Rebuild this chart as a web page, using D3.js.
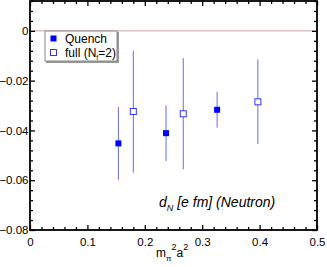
<!DOCTYPE html>
<html>
<head>
<meta charset="utf-8">
<script src="https://cdn.jsdelivr.net/npm/d3@7"></script>
<style>
  body { margin: 0; background: #fff; }
  svg { font-family: "Liberation Sans", Arial, sans-serif; }
</style>
</head>
<body>
<div id="chart"></div>
<script>
// data
var quenchX = [0.154, 0.237, 0.326],
  quenchY = [-0.0452, -0.0411, -0.0317],
  quenchErr = [0.0146, 0.0112, 0.0072];
var fullX = [0.180, 0.267, 0.397],
  fullY = [-0.0324, -0.0333, -0.0285],
  fullErr = [0.0245, 0.0223, 0.0170];
var xTicks = [0, 0.1, 0.2, 0.3, 0.4, 0.5],
  yTicks = [0, -0.02, -0.04, -0.06, -0.08];

var width = 327,
  height = 267,
  svg = d3
    .select("#chart")
    .append("svg")
    .attr("width", width)
    .attr("height", height);

var x = d3.scaleLinear().domain([0, 0.5]).range([30, 317]);
var y = d3.scaleLinear().domain([-0.08, 0.012]).range([230, 1]);

var xMinor = d3.range(0, 0.5001, 0.02).filter(function(v){ return Math.abs(v * 10 - Math.round(v * 10)) > 1e-6; });
var yMinor = d3.range(-0.08, 0.0121, 0.004).filter(function(v){ return Math.abs(v * 50 - Math.round(v * 50)) > 1e-6; });

// zero line
svg.append("line")
  .attr("x1", x(0)).attr("x2", x(0.5))
  .attr("y1", y(0)).attr("y2", y(0))
  .attr("stroke", "#c8a8a8")
  .attr("stroke-width", 1);

function styleAxis(g){
  g.select(".domain").remove();
  g.selectAll(".tick line").attr("stroke", "#000").attr("stroke-width", 1.3);
  g.selectAll("text").attr("fill", "#000").style("font-size", "11.5px");
}

// bottom
svg.append("g").attr("transform", `translate(0,${y(-0.08)})`)
  .call(d3.axisBottom(x).tickValues(xTicks).tickSize(-5).tickPadding(8).tickFormat(d3.format("")))
  .call(styleAxis);
svg.append("g").attr("transform", `translate(0,${y(-0.08)})`)
  .call(d3.axisBottom(x).tickValues(xMinor).tickSize(-3).tickFormat(""))
  .call(styleAxis);
// top
svg.append("g").attr("transform", `translate(0,${y(0.012)})`)
  .call(d3.axisTop(x).tickValues(xTicks).tickSize(-5).tickFormat(""))
  .call(styleAxis);
svg.append("g").attr("transform", `translate(0,${y(0.012)})`)
  .call(d3.axisTop(x).tickValues(xMinor).tickSize(-3).tickFormat(""))
  .call(styleAxis);
// left
svg.append("g").attr("transform", `translate(${x(0)},0)`)
  .call(d3.axisLeft(y).tickValues(yTicks).tickSize(-5).tickPadding(1.5).tickFormat(d3.format("")))
  .call(styleAxis);
svg.append("g").attr("transform", `translate(${x(0)},0)`)
  .call(d3.axisLeft(y).tickValues(yMinor).tickSize(-3).tickFormat(""))
  .call(styleAxis);
// right
svg.append("g").attr("transform", `translate(${x(0.5)},0)`)
  .call(d3.axisRight(y).tickValues(yTicks).tickSize(-5).tickFormat(""))
  .call(styleAxis);
svg.append("g").attr("transform", `translate(${x(0.5)},0)`)
  .call(d3.axisRight(y).tickValues(yMinor).tickSize(-3).tickFormat(""))
  .call(styleAxis);

// frame
svg.append("rect")
  .attr("x", x(0)).attr("y", y(0.012))
  .attr("width", x(0.5) - x(0)).attr("height", y(-0.08) - y(0.012))
  .attr("fill", "none")
  .attr("stroke", "#000")
  .attr("stroke-width", 1.8);

// error bars
var quench = quenchX.map(function(d, i){ return { x: d, y: quenchY[i], e: quenchErr[i] }; });
var full = fullX.map(function(d, i){ return { x: d, y: fullY[i], e: fullErr[i] }; });

svg.selectAll(".err")
  .data(quench.concat(full))
  .enter()
  .append("line")
  .attr("x1", function(d){ return x(d.x); })
  .attr("x2", function(d){ return x(d.x); })
  .attr("y1", function(d){ return y(d.y + d.e); })
  .attr("y2", function(d){ return y(d.y - d.e); })
  .attr("stroke", "#6b6bee")
  .attr("stroke-width", 1);

svg.selectAll(".qpt")
  .data(quench)
  .enter()
  .append("rect")
  .attr("x", function(d){ return x(d.x) - 3; })
  .attr("y", function(d){ return y(d.y) - 3; })
  .attr("width", 6).attr("height", 6)
  .attr("fill", "#0000ff");

svg.selectAll(".fpt")
  .data(full)
  .enter()
  .append("rect")
  .attr("x", function(d){ return x(d.x) - 3; })
  .attr("y", function(d){ return y(d.y) - 3; })
  .attr("width", 6).attr("height", 6)
  .attr("fill", "#fff")
  .attr("stroke", "#3333ff")
  .attr("stroke-width", 1);

// legend
var leg = svg.append("g");
leg.append("rect").attr("x", 46).attr("y", 32).attr("width", 73).attr("height", 31).attr("fill", "#999");
leg.append("rect").attr("x", 45).attr("y", 31).attr("width", 72).attr("height", 30)
  .attr("fill", "#fff").attr("stroke", "#888").attr("stroke-width", 1);
leg.append("rect").attr("x", 50.5).attr("y", 35.5).attr("width", 6).attr("height", 6).attr("fill", "#0000ff");
leg.append("rect").attr("x", 50.5).attr("y", 49.5).attr("width", 6).attr("height", 6)
  .attr("fill", "#fff").attr("stroke", "#3333ff").attr("stroke-width", 1);
leg.append("text").attr("x", 65).attr("y", 43).style("font-size", "12px").text("Quench");
var t2 = leg.append("text").attr("x", 65).attr("y", 57).style("font-size", "12px");
t2.append("tspan").text("full (N");
t2.append("tspan").attr("dy", 3).style("font-size", "7px").text("f");
t2.append("tspan").attr("dy", -3).text("=2)");

// annotation
var ann = svg.append("text").attr("x", 159).attr("y", 207)
  .style("font-size", "14px").style("font-style", "italic");
ann.append("tspan").text("d");
ann.append("tspan").attr("dy", 4).style("font-size", "9px").text("N");
ann.append("tspan").attr("dy", -4).text(" [e fm] (Neutron)");

// x label
var xl = svg.append("text").attr("x", 156).attr("y", 257).style("font-size", "12px");
xl.append("tspan").text("m");
xl.append("tspan").attr("dy", 4).style("font-size", "8px").text("\u03c0");
xl.append("tspan").attr("dy", -11).style("font-size", "9px").text("2");
xl.append("tspan").attr("dy", 7).text("a");
xl.append("tspan").attr("dy", -7).style("font-size", "9px").text("2");
</script>
</body>
</html>
